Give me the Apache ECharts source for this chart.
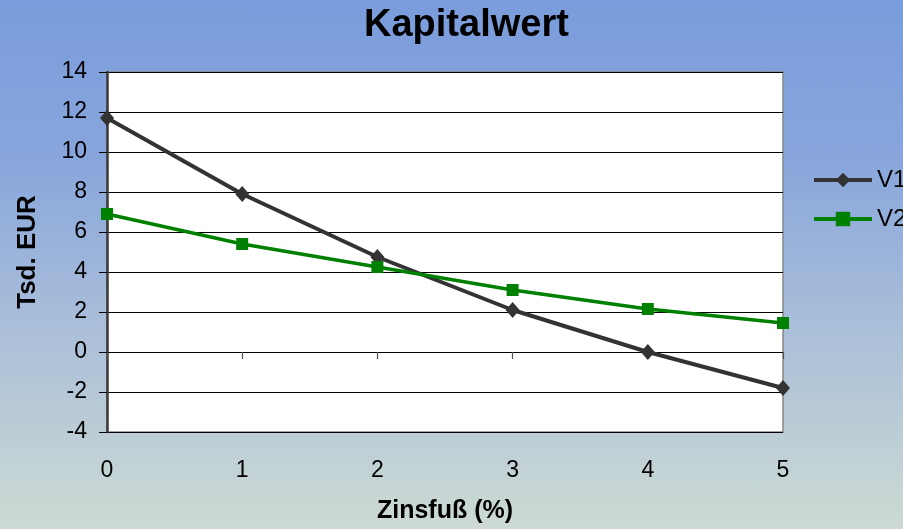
<!DOCTYPE html>
<html>
<head>
<meta charset="utf-8">
<script src="https://cdn.jsdelivr.net/npm/echarts@6/dist/echarts.min.js"></script>
<style>
  html, body { margin: 0; padding: 0; }
  #chart {
    width: 903px; height: 529px;
    background: linear-gradient(to bottom, #7a9cdc 0%, #88a6dc 30%, #a8bdd9 60%, #cddad3 100%);
  }
</style>
</head>
<body>
<div id="chart"></div>
<script>
// Interest rates (%) along the x axis
const rates = ['0', '1', '2', '3', '4', '5'];
// Net present value in thousand EUR for each investment variant
const v1Values = [11.7, 7.9, 4.75, 2.1, 0.0, -1.8];
const v2Values = [6.9, 5.4, 4.25, 3.1, 2.15, 1.45];
// Value axis range
const yMin = -4, yMax = 14, yStep = 2;

const FONT = "'Liberation Sans', Arial, sans-serif";

const chart = echarts.init(document.getElementById('chart'), null, { renderer: 'canvas' });

chart.setOption({
  backgroundColor: 'transparent',
  animation: false,
  textStyle: { fontFamily: FONT },
  title: {
    text: 'Kapitalwert',
    left: 359,
    top: 2,
    textStyle: { fontFamily: FONT, fontSize: 38, fontWeight: 'bold', color: '#000' }
  },
  legend: {
    orient: 'vertical',
    left: 807,
    top: 163,
    itemWidth: 58,
    itemHeight: 18,
    itemGap: 15,
    lineStyle: { width: 4 },
    textStyle: { fontFamily: FONT, fontSize: 24, color: '#000' },
    data: ['V1', 'V2']
  },
  grid: {
    left: 107, right: 120, top: 72, bottom: 97,
    outerBoundsMode: 'none',
    containLabel: false,
    show: true,
    backgroundColor: '#ffffff',
    borderColor: '#888888',
    borderWidth: 1.5
  },
  xAxis: [
    {
      type: 'category',
      data: rates,
      boundaryGap: false,
      position: 'bottom',
      axisLine: { show: false, onZero: false },
      axisTick: { show: false },
      splitLine: { show: false },
      axisLabel: { margin: 27, fontFamily: FONT, fontSize: 23, color: '#000' },
      name: 'Zinsfuß (%)',
      nameLocation: 'middle',
      nameGap: 67,
      nameTextStyle: { fontFamily: FONT, fontSize: 25, fontWeight: 'bold', color: '#000' }
    },
    {
      // axis drawn through zero with its downward ticks
      type: 'category',
      data: rates,
      boundaryGap: false,
      position: 'bottom',
      axisLine: { show: true, onZero: true, lineStyle: { color: '#000', width: 1 } },
      axisTick: { show: true, length: 7, inside: false, lineStyle: { color: '#555', width: 1.2 } },
      axisLabel: { show: false },
      splitLine: { show: false }
    }
  ],
  yAxis: {
    type: 'value',
    min: yMin, max: yMax, interval: yStep,
    axisLine: { show: true, lineStyle: { color: '#3a3a3a', width: 2.5 } },
    axisTick: { show: true, length: 8, lineStyle: { color: '#000', width: 1 } },
    axisLabel: { margin: 20, fontFamily: FONT, fontSize: 23, color: '#000' },
    splitLine: { show: true, lineStyle: { color: '#000', width: 1 } },
    name: 'Tsd. EUR',
    nameLocation: 'middle',
    nameGap: 66,
    nameTextStyle: { fontFamily: FONT, fontSize: 26, fontWeight: 'bold', color: '#000' }
  },
  series: [
    {
      name: 'V1',
      type: 'line',
      xAxisIndex: 1,
      data: v1Values,
      symbol: 'diamond',
      symbolSize: [14, 16],
      showAllSymbol: true,
      lineStyle: { color: '#333333', width: 4 },
      itemStyle: { color: '#333333' }
    },
    {
      name: 'V2',
      type: 'line',
      xAxisIndex: 1,
      data: v2Values,
      symbol: 'rect',
      symbolSize: 12,
      showAllSymbol: true,
      lineStyle: { color: '#008000', width: 3.5 },
      itemStyle: { color: '#008000' }
    }
  ]
});
</script>
</body>
</html>
